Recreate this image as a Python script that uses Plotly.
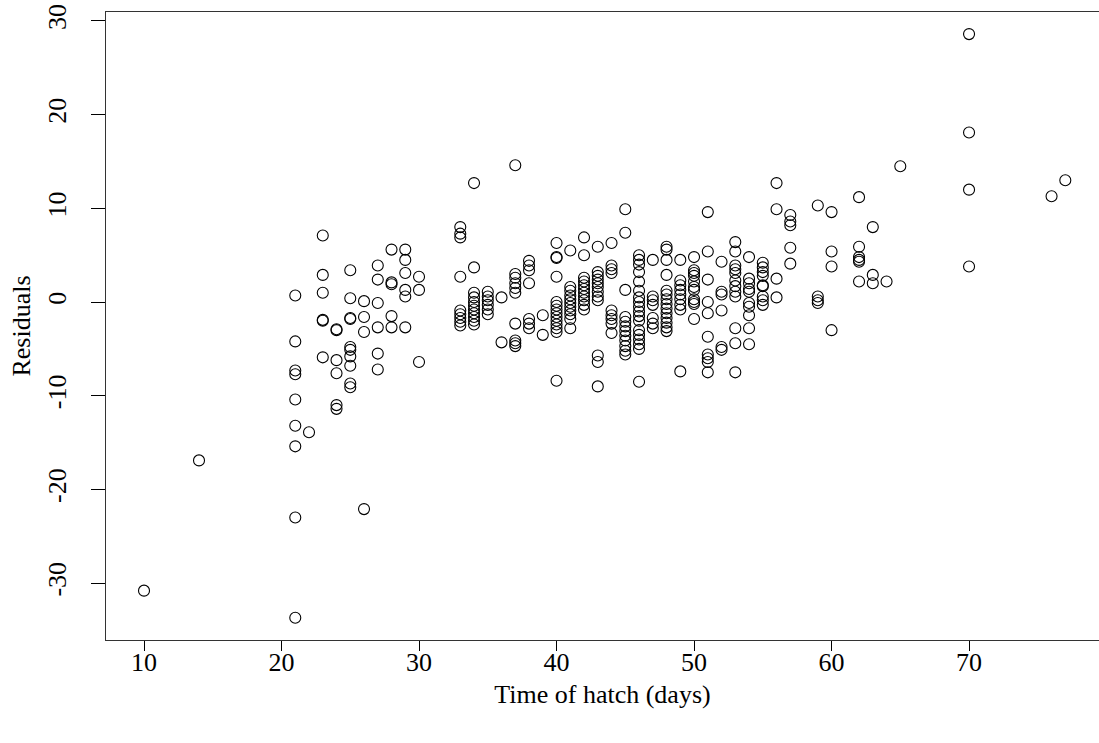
import plotly.graph_objects as go

# Hatch time (days) and residuals, grouped by day
days = [10, 14, 21, 22, 23, 24, 25, 26, 27, 28, 29, 30, 33, 34, 35, 36, 37, 38, 39,
        40, 41, 42, 43, 44, 45, 46, 47, 48, 49, 50, 51, 52, 53, 54, 55, 56, 57,
        59, 60, 62, 63, 64, 65, 70, 76, 77]

residuals_by_day = [
    [-30.8],
    [-16.9],
    [0.7, -4.2, -7.3, -7.7, -10.4, -13.2, -15.4, -23.0, -33.7],
    [-13.9],
    [7.1, 2.9, 1.0, -1.9, -2.0, -5.9],
    [-2.9, -3.0, -6.2, -7.6, -11.0, -11.4],
    [3.4, 0.4, -1.7, -1.8, -4.8, -5.1, -5.8, -6.8, -8.7, -9.1],
    [0.1, -1.6, -3.2, -22.1],
    [3.9, 2.4, -0.1, -2.7, -5.5, -7.2],
    [5.6, 2.1, 1.9, -1.5, -2.7],
    [5.6, 4.5, 3.1, 1.3, 0.6, -2.7],
    [2.7, 1.3, -6.4],
    [8.0, 7.3, 6.9, 2.7, -0.9, -1.3, -1.7, -2.1, -2.5],
    [12.7, 3.7, 1.0, 0.5, 0.0, -0.4, -0.8, -1.2, -1.6, -2.0, -2.4],
    [1.1, 0.6, 0.2, -0.3, -0.8, -1.3],
    [0.5, -4.3],
    [14.6, 3.0, 2.6, 2.0, 1.5, 1.0, -2.3, -4.1, -4.4, -4.7],
    [4.4, 3.9, 3.4, 2.0, -1.8, -2.3, -2.8],
    [-1.4, -3.5],
    [6.3, 4.8, 4.7, 2.7, 0.0, -0.4, -0.8, -1.2, -1.6, -2.0, -2.4, -2.8, -3.2, -8.4],
    [5.5, 1.6, 1.2, 0.7, 0.3, -0.1, -0.5, -0.9, -1.3, -1.8, -2.8],
    [6.9, 5.0, 2.6, 2.2, 1.8, 1.4, 1.0, 0.6, 0.2, -0.3, -0.8],
    [5.9, 3.2, 2.8, 2.4, 2.0, 1.6, 1.1, 0.6, 0.2, -5.7, -6.4, -9.0],
    [6.3, 3.9, 3.5, 3.1, -0.9, -1.4, -1.8, -2.3, -3.3],
    [9.9, 7.4, 1.3, -1.6, -2.1, -2.6, -3.1, -3.6, -4.1, -4.7, -5.2, -5.6],
    [5.0, 4.5, 4.0, 3.2, 2.2, 1.2, 0.5, 0.0, -0.5, -1.0, -1.5, -2.0, -3.0, -3.5,
     -4.0, -4.5, -5.0, -8.5],
    [4.5, 0.6, 0.2, -0.3, -1.7, -2.3, -2.8],
    [5.9, 5.6, 4.5, 2.9, 1.2, 0.8, 0.3, -0.2, -0.7, -1.2, -1.7, -2.2, -2.7, -3.1],
    [4.5, 2.3, 1.8, 1.3, 0.8, 0.3, -0.3, -0.8, -7.4],
    [4.8, 3.4, 3.1, 2.8, 2.2, 1.6, 1.3, 0.3, 0.0, -0.2, -1.8],
    [9.6, 5.4, 2.4, 0.0, -1.2, -3.7, -5.6, -6.0, -6.4, -7.5],
    [4.3, 1.1, 0.8, -0.9, -4.8, -5.1],
    [6.4, 5.4, 3.9, 3.5, 3.1, 2.3, 1.7, 1.1, 0.6, -2.8, -4.4, -7.5],
    [4.8, 2.5, 2.0, 1.4, 1.1, -0.1, -0.5, -1.4, -2.8, -4.5],
    [4.2, 3.7, 3.2, 2.8, 1.8, 1.7, 0.6, 0.2, -0.3],
    [12.7, 9.9, 2.5, 0.5],
    [9.3, 8.6, 8.2, 5.8, 4.1],
    [10.3, 0.6, 0.2, -0.1],
    [9.6, 5.4, 3.8, -3.0],
    [11.2, 5.9, 4.8, 4.5, 4.3, 2.2],
    [8.0, 2.9, 2.0],
    [2.2],
    [14.5],
    [28.6, 18.1, 12.0, 3.8],
    [11.3],
    [13.0],
]

x_ticks = [10, 20, 30, 40, 50, 60, 70]
y_ticks = [-30, -20, -10, 0, 10, 20, 30]
y_tick_labels = ["-30", "-20", "-10", "0", "10", "20", "30"]

hatch_time = [d for d, rs in zip(days, residuals_by_day) for _ in rs]
residual = [r for rs in residuals_by_day for r in rs]

FONT = "Liberation Serif, Times New Roman, serif"
FS = 26

fig = go.Figure(
    go.Scatter(
        x=hatch_time,
        y=residual,
        mode="markers",
        marker=dict(symbol="circle-open", size=11, color="black",
                    line=dict(width=1.1, color="black")),
        showlegend=False,
        hoverinfo="x+y",
    )
)

fig.update_layout(
    width=1099,
    height=743,
    margin=dict(l=106, r=0, t=12, b=103),
    paper_bgcolor="white",
    plot_bgcolor="white",
    font=dict(family=FONT, size=FS, color="black"),
)

fig.update_xaxes(
    range=[7.236, 79.45],
    tickvals=x_ticks,
    ticks="outside",
    ticklen=10,
    tickwidth=1,
    tickcolor="black",
    ticklabelstandoff=-11,
    showline=True,
    linecolor="#333333",
    linewidth=1.2,
    mirror=True,
    showgrid=False,
    zeroline=False,
    automargin=False,
    title=dict(text="Time of hatch (days)", standoff=8, font=dict(size=FS)),
    tickfont=dict(size=FS),
)

fig.update_yaxes(
    range=[-36.07, 30.96],
    tickvals=y_ticks,
    ticktext=y_tick_labels,
    tickangle=-90,
    ticks="outside",
    ticklen=14,
    tickwidth=1,
    tickcolor="black",
    ticklabelstandoff=15,
    showline=True,
    linecolor="#333333",
    linewidth=1.2,
    mirror=False,
    showgrid=False,
    zeroline=False,
    automargin=False,
    title=dict(text="Residuals", standoff=4, font=dict(size=FS)),
    tickfont=dict(size=FS),
)

fig.write_html("out.html", config={"displayModeBar": False},
               post_script="document.body.style.margin='0px';")
